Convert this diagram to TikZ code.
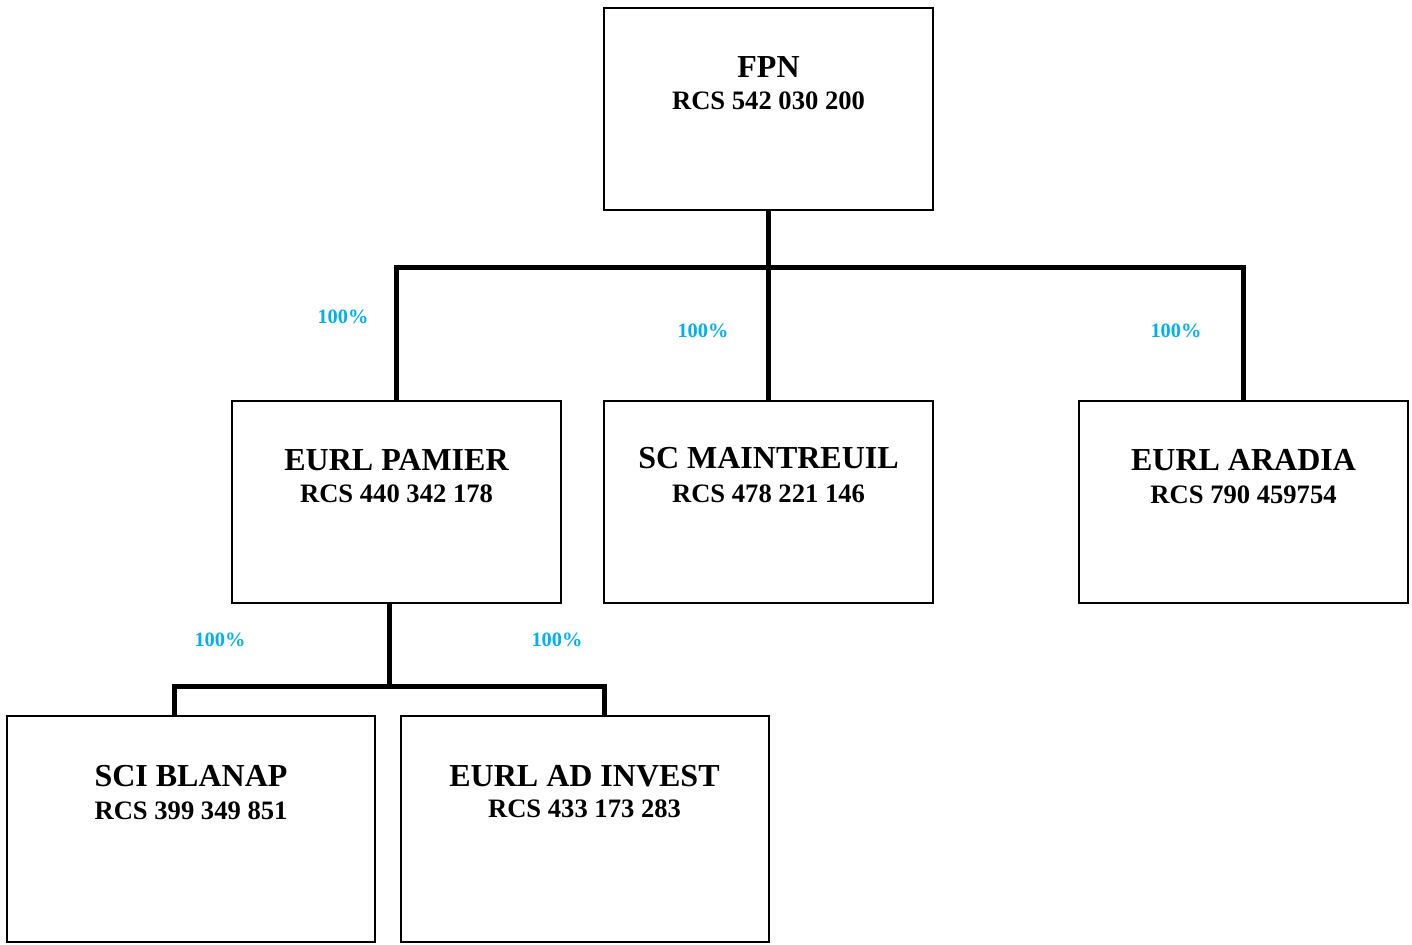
\documentclass[tikz,border=0pt]{standalone}
\usepackage{fontspec}
\setmainfont{Liberation Serif}
\usetikzlibrary{calc}
\definecolor{pctblue}{HTML}{00B0F0}
\begin{document}
\begin{tikzpicture}[x=0.5pt,y=-0.5pt,
    orgbox/.style={draw,line width=1pt,rectangle,inner sep=0pt,outer sep=0pt,minimum width=164.5pt,minimum height=101pt},
    lowbox/.style={orgbox,minimum width=184pt,minimum height=113pt},
    title/.style={anchor=base,inner sep=0pt,font=\fontsize{16}{18}\selectfont\bfseries},
    rcs/.style={anchor=base,inner sep=0pt,font=\fontsize{13.3}{15}\selectfont\bfseries},
    pct/.style={text=pctblue,inner sep=0pt,font=\fontsize{10.2}{12}\selectfont\bfseries},
    link/.style={line width=2.5pt,line join=miter}]
  \useasboundingbox (0,0) rectangle (1412,944);
  % boxes
  \node[orgbox] (fpn) at (768.5,109) {};
  \node[orgbox] (pamier) at (396.5,502) {};
  \node[orgbox] (maint) at (768.5,502) {};
  \node[orgbox] (aradia) at (1243.5,502) {};
  \node[lowbox] (blanap) at (191,829) {};
  \node[lowbox] (adinv) at (584.5,829) {};
  % texts
  \node[title] (fpn-t) at ($(fpn.north)+(0,69)$) {FPN};
  \node[rcs] (fpn-r) at ($(fpn.north)+(0,101)$) {RCS 542 030 200};
  \node[title] (pamier-t) at ($(pamier.north)+(0,69)$) {EURL PAMIER};
  \node[rcs] (pamier-r) at ($(pamier.north)+(0,101)$) {RCS 440 342 178};
  \node[title] (maint-t) at ($(maint.north)+(0,67)$) {SC MAINTREUIL};
  \node[rcs] (maint-r) at ($(maint.north)+(0,101)$) {RCS 478 221 146};
  \node[title] (aradia-t) at ($(aradia.north)+(0,69)$) {EURL ARADIA};
  \node[rcs] (aradia-r) at ($(aradia.north)+(0,102)$) {RCS 790 459754};
  \node[title] (blanap-t) at ($(blanap.north)+(0,70)$) {SCI BLANAP};
  \node[rcs] (blanap-r) at ($(blanap.north)+(0,103)$) {RCS 399 349 851};
  \node[title] (adinv-t) at ($(adinv.north)+(0,70)$) {EURL AD INVEST};
  \node[rcs] (adinv-r) at ($(adinv.north)+(0,101)$) {RCS 433 173 283};
  % links
  \coordinate (bus1) at (768.5,267);
  \draw[link] (fpn.south) -- (bus1);
  \draw[link] (bus1) -| (pamier.north);
  \draw[link] (bus1) -- (maint.north);
  \draw[link] (bus1) -| (aradia.north);
  \coordinate (bus2) at (389,686);
  \coordinate (bj1) at (174,686);
  \coordinate (bj2) at (604,686);
  \draw[link] (bus2 |- pamier.south) -- (bus2);
  \draw[link] (bj1 |- blanap.north) -- (bj1) -- (bj2) -- (bj2 |- adinv.north);
  % percentages
  \node[pct] (p1) at (343,317) {100\%};
  \node[pct] (p2) at (703,331) {100\%};
  \node[pct] (p3) at (1176,331) {100\%};
  \node[pct] (p4) at (220,640) {100\%};
  \node[pct] (p5) at (557,640) {100\%};
\end{tikzpicture}
\end{document}
